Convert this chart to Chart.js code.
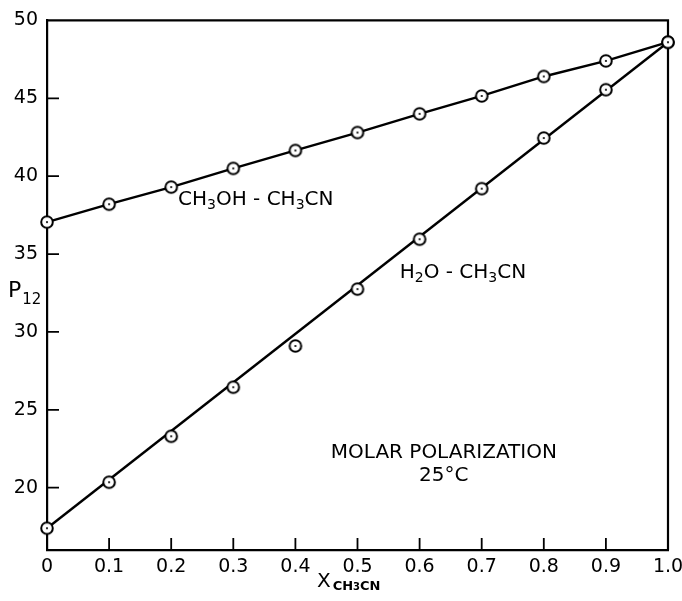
<!DOCTYPE html>
<html>
<head>
<meta charset="utf-8">
<script src="https://cdn.jsdelivr.net/npm/chart.js@4"></script>
<style>
  body { margin: 0; background: #fff; }
  #wrap { width: 682px; height: 601px; }
</style>
</head>
<body>
<div id="wrap"><canvas id="chart"></canvas></div>
<script>
// mole fraction of acetonitrile
const xValues = [0, 0.1, 0.2, 0.3, 0.4, 0.5, 0.6, 0.7, 0.8, 0.9, 1.0];
// molar polarization P12
const methanolP = [37.05, 38.2, 39.3, 40.5, 41.65, 42.8, 44.0, 45.15, 46.4, 47.4, 48.6];
const waterP = [17.4, 20.35, 23.3, 26.45, 29.1, 32.75, 35.95, 39.2, 42.45, 45.55, 48.6];
// straight line drawn through the water series
const waterFitX = [0, 1.0];
const waterFitP = [17.4, 48.6];

const xTicks = [0, 0.1, 0.2, 0.3, 0.4, 0.5, 0.6, 0.7, 0.8, 0.9, 1.0];
const xTickLabels = ['0', '0.1', '0.2', '0.3', '0.4', '0.5', '0.6', '0.7', '0.8', '0.9', '1.0'];
const yTicks = [20, 25, 30, 35, 40, 45, 50];
const yTickLabels = ['20', '25', '30', '35', '40', '45', '50'];

const FONT = "'DejaVu Sans', sans-serif";

// open circle with a dot in the middle
function makeMarker() {
    const c = document.createElement('canvas');
    c.width = 16; c.height = 16;
    const g = c.getContext('2d');
    g.beginPath();
    g.arc(8, 8, 5.8, 0, Math.PI * 2);
    g.fillStyle = '#fff';
    g.fill();
    g.lineWidth = 2;
    g.strokeStyle = '#000';
    g.stroke();
    g.beginPath();
    g.arc(8, 8, 1.1, 0, Math.PI * 2);
    g.fillStyle = '#000';
    g.fill();
    return c;
}
const marker = makeMarker();

const pts = (xs, ys) => xs.map((x, i) => ({x: x, y: ys[i]}));

// draws text made of normal and subscript pieces
function richText(ctx, parts, x, y, size, align) {
    let total = 0;
    const fontOf = p => (p.bold ? 'bold ' : '') + (p.sub ? (p.size || Math.round(size * 0.68)) : size) + 'px ' + FONT;
    parts.forEach(p => {
        ctx.font = fontOf(p);
        total += ctx.measureText(p.t).width + (p.gap || 0);
    });
    let cx = align === 'center' ? x - total / 2 : x;
    ctx.textAlign = 'left';
    ctx.textBaseline = 'alphabetic';
    parts.forEach(p => {
        ctx.font = fontOf(p);
        ctx.fillText(p.t, cx, y + (p.sub ? (p.drop || Math.round(size * 0.2)) : 0));
        cx += ctx.measureText(p.t).width + (p.gap || 0);
    });
}

const framePlugin = {
    id: 'frame',
    beforeDatasetsDraw(chart) {
        const {ctx, chartArea: a, scales: {x, y}} = chart;
        ctx.save();
        ctx.strokeStyle = '#000';
        ctx.lineWidth = 2.2;
        ctx.beginPath();
        ctx.moveTo(a.left, a.top);
        ctx.lineTo(a.right, a.top);
        ctx.lineTo(a.right, a.bottom);
        ctx.stroke();
        // inward tick marks
        ctx.lineWidth = 1.8;
        ctx.beginPath();
        xTicks.forEach(v => {
            if (v === x.min || v === x.max) return;
            const px = x.getPixelForValue(v);
            ctx.moveTo(px, a.bottom);
            ctx.lineTo(px, a.bottom - 12);
        });
        yTicks.forEach(v => {
            if (v === y.max) return;
            const py = y.getPixelForValue(v);
            ctx.moveTo(a.left, py);
            ctx.lineTo(a.left + 12, py);
        });
        ctx.stroke();
        ctx.restore();
    },
    afterDraw(chart) {
        const {ctx, scales: {x, y}} = chart;
        ctx.save();
        ctx.fillStyle = '#000';
        richText(ctx, [{t: 'CH'}, {t: '3', sub: true}, {t: 'OH - CH'}, {t: '3', sub: true}, {t: 'CN'}],
            x.getPixelForValue(0.211), y.getPixelForValue(38.18), 20, 'left');
        richText(ctx, [{t: 'H'}, {t: '2', sub: true}, {t: 'O - CH'}, {t: '3', sub: true}, {t: 'CN'}],
            x.getPixelForValue(0.568), y.getPixelForValue(33.49), 20, 'left');
        richText(ctx, [{t: 'MOLAR POLARIZATION'}], x.getPixelForValue(0.639), y.getPixelForValue(21.93), 20, 'center');
        richText(ctx, [{t: '25°C'}], x.getPixelForValue(0.639), y.getPixelForValue(20.46), 20, 'center');
        // axis titles
        richText(ctx, [{t: 'P', gap: 1}, {t: '12', sub: true, size: 15, drop: 7}], 8, 297, 22, 'left');
        richText(ctx, [{t: 'X', gap: 2}, {t: 'CH', sub: true, bold: true, size: 13, drop: 3},
            {t: '3', sub: true, bold: true, size: 10, drop: 3}, {t: 'CN', sub: true, bold: true, size: 13, drop: 3}],
            317, 587, 20, 'left');
        ctx.restore();
    }
};

new Chart(document.getElementById('chart'), {
    type: 'scatter',
    data: {
        datasets: [
            {
                label: 'CH3OH-CH3CN',
                data: pts(xValues, methanolP),
                showLine: true,
                borderColor: '#000',
                borderWidth: 2.4,
                pointStyle: marker,
                clip: false,
                order: 1
            },
            {
                label: 'H2O-CH3CN fit',
                data: pts(waterFitX, waterFitP),
                showLine: true,
                borderColor: '#000',
                borderWidth: 2.4,
                pointRadius: 0,
                clip: false,
                order: 3
            },
            {
                label: 'H2O-CH3CN',
                data: pts(xValues, waterP),
                showLine: false,
                pointStyle: marker,
                clip: false,
                order: 2
            }
        ]
    },
    options: {
        responsive: true,
        maintainAspectRatio: false,
        animation: false,
        layout: {padding: {top: 20, right: 14, left: 0, bottom: 0}},
        plugins: {legend: {display: false}, tooltip: {enabled: false}},
        scales: {
            x: {
                type: 'linear',
                min: 0,
                max: 1,
                afterBuildTicks: s => { s.ticks = xTicks.map(v => ({value: v})); },
                afterFit: s => { s.height = 51; s.paddingRight = 0; s.paddingLeft = 0; },
                ticks: {
                    callback: (v, i) => xTickLabels[i],
                    color: '#000',
                    font: {family: FONT, size: 19},
                    padding: 6,
                    maxRotation: 0,
                    autoSkip: false
                },
                grid: {drawOnChartArea: false, drawTicks: false},
                border: {display: true, color: '#000', width: 2.2}
            },
            y: {
                type: 'linear',
                min: 16,
                max: 50,
                afterBuildTicks: s => { s.ticks = yTicks.map(v => ({value: v})); },
                afterFit: s => { s.width = 47; },
                ticks: {
                    callback: (v, i) => yTickLabels[i],
                    color: '#000',
                    font: {family: FONT, size: 19},
                    padding: 9,
                    autoSkip: false
                },
                grid: {drawOnChartArea: false, drawTicks: false},
                border: {display: true, color: '#000', width: 2.2}
            }
        }
    },
    plugins: [framePlugin]
});
</script>
</body>
</html>
